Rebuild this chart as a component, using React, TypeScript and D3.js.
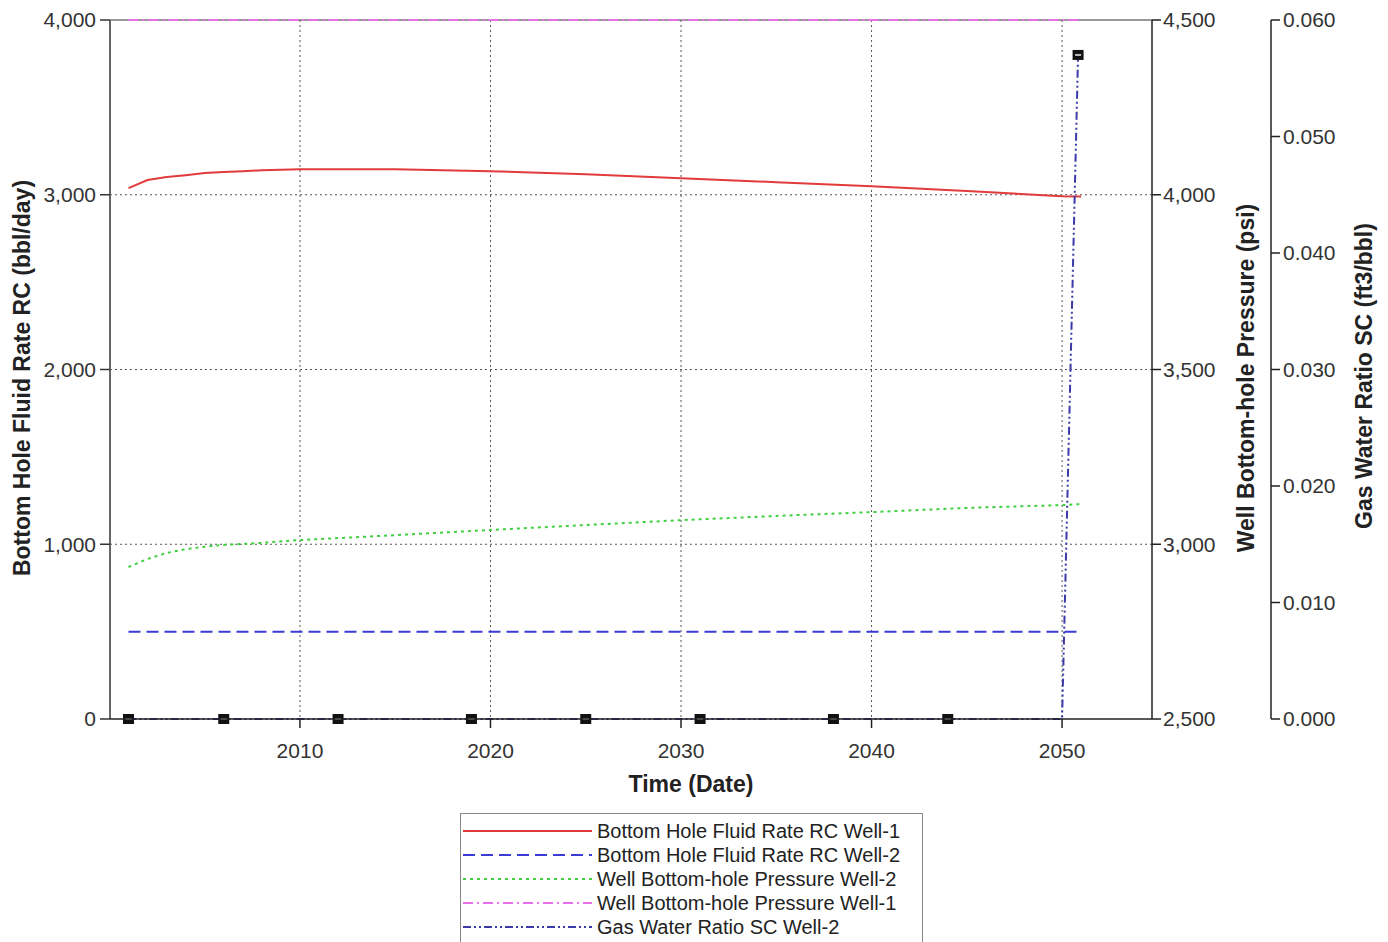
import React from "react";
import * as d3 from "d3";

// ---- data ----
const years = [2001, 2002, 2003, 2004, 2005, 2006, 2007, 2008, 2010, 2015, 2020, 2025, 2030, 2035, 2040, 2045, 2050, 2051];
const rateWell1 = [3038, 3084, 3101, 3112, 3124, 3130, 3135, 3140, 3146, 3146, 3135, 3118, 3095, 3072, 3049, 3021, 2992, 2990];
const rateWell2 = [500, 500, 500, 500, 500, 500, 500, 500, 500, 500, 500, 500, 500, 500, 500, 500, 500, 500];
const pressWell2 = [2935, 2958, 2975, 2986, 2993, 2998, 3001, 3004, 3012, 3026, 3041, 3055, 3069, 3081, 3092, 3104, 3112, 3115];
const pressWell1 = [4500, 4500, 4500, 4500, 4500, 4500, 4500, 4500, 4500, 4500, 4500, 4500, 4500, 4500, 4500, 4500, 4500, 4500];
const gwrYears = [2001, 2006, 2012, 2019, 2025, 2031, 2038, 2044, 2050, 2050.84];
const gwrWell2 = [0, 0, 0, 0, 0, 0, 0, 0, 0, 0.057];
const gwrMarkerIdx = [0, 1, 2, 3, 4, 5, 6, 7, 9];

const xTicks = [2010, 2020, 2030, 2040, 2050];
const rateTicks = [0, 1000, 2000, 3000, 4000];
const pressTicks = [2500, 3000, 3500, 4000, 4500];
const gwrTicks = [0, 0.01, 0.02, 0.03, 0.04, 0.05, 0.06];

const legendItems = [
  { label: "Bottom Hole Fluid Rate RC Well-1", color: "#e23b3b", dash: "none" },
  { label: "Bottom Hole Fluid Rate RC Well-2", color: "#3b3bd6", dash: "12,6" },
  { label: "Well Bottom-hole Pressure Well-2", color: "#3fcf3f", dash: "3,4" },
  { label: "Well Bottom-hole Pressure Well-1", color: "#e870e8", dash: "10,4,2,4" },
  { label: "Gas Water Ratio SC Well-2", color: "#3a3aa8", dash: "8,3,2,3,2,3" },
];

export default function App() {
  const L = 110, R = 1152, T = 20, B = 719;
  const gwrAxisX = 1271;
  const x = d3.scaleLinear().domain([2000.03, 2054.72]).range([L, R]);
  const yRate = d3.scaleLinear().domain([0, 4000]).range([B, T]);
  const yPress = d3.scaleLinear().domain([2500, 4500]).range([B, T]);
  const yGwr = d3.scaleLinear().domain([0, 0.06]).range([B, T]);

  const mk = (ys: number[], vals: number[], sy: d3.ScaleLinear<number, number>) =>
    d3.line<number>().x((_, i) => x(ys[i])).y((v) => sy(v))(vals) || "";

  const fmtInt = d3.format(",");
  const fmtG = d3.format(".3f");
  const font = "'Liberation Sans', Arial, sans-serif";
  const tickColor = "#333";
  const tickFs = 21;
  const titleFs = 23;

  return (
    <svg width={1388} height={942} style={{ position: "absolute", left: 0, top: 0, background: "#fff" }} fontFamily={font}>
      {/* grid */}
      {xTicks.map((t) => (
        <line key={"gx" + t} x1={x(t)} x2={x(t)} y1={T} y2={B} stroke="#555" strokeWidth={1} strokeDasharray="2,3" />
      ))}
      {rateTicks.filter((t) => t > 0 && t < 4000).map((t) => (
        <line key={"gy" + t} x1={L} x2={R} y1={yRate(t)} y2={yRate(t)} stroke="#555" strokeWidth={1} strokeDasharray="2,3" />
      ))}

      {/* frame top */}
      <line x1={L} x2={R} y1={T} y2={T} stroke="#777" strokeWidth={1.5} />

      {/* series */}
      <path d={mk(years, pressWell2, yPress)} fill="none" stroke="#3fcf3f" strokeWidth={2} strokeDasharray="3,4" />
      <path d={mk(years, rateWell2, yRate)} fill="none" stroke="#3b3bd6" strokeWidth={2} strokeDasharray="12,6" />
      <path d={mk(years, rateWell1, yRate)} fill="none" stroke="#e23b3b" strokeWidth={2} />
      <path d={mk(years, pressWell1, yPress)} fill="none" stroke="#e870e8" strokeWidth={2} strokeDasharray="10,4,2,4" />
      <path d={mk(gwrYears, gwrWell2, yGwr)} fill="none" stroke="#3a3aa8" strokeWidth={2} strokeDasharray="8,3,2,3,2,3" />
      {gwrMarkerIdx.map((i) => (
        <g key={"m" + i}>
          <rect x={x(gwrYears[i]) - 5.5} y={yGwr(gwrWell2[i]) - 5} width={11} height={10} fill="#111" />
          <rect x={x(gwrYears[i]) - 3} y={yGwr(gwrWell2[i]) - 1} width={6} height={2} fill="#bbb" />
        </g>
      ))}

      {/* left axis */}
      <line x1={L} x2={L} y1={T} y2={B} stroke="#666" strokeWidth={2} />
      {rateTicks.map((t) => (
        <g key={"ly" + t}>
          <line x1={L - 10} x2={L} y1={yRate(t)} y2={yRate(t)} stroke="#333" strokeWidth={1.5} />
          <text x={L - 14} y={yRate(t)} dy="0.35em" textAnchor="end" fontSize={tickFs} fill={tickColor}>{fmtInt(t)}</text>
        </g>
      ))}
      <text transform={`translate(30,378) rotate(-90)`} textAnchor="middle" fontSize={titleFs} fontWeight="bold" fill="#222">
        Bottom Hole Fluid Rate RC (bbl/day)
      </text>

      {/* bottom axis */}
      <line x1={L} x2={R} y1={B} y2={B} stroke="#222" strokeWidth={1.5} />
      {xTicks.map((t) => (
        <g key={"bx" + t}>
          <line x1={x(t)} x2={x(t)} y1={B} y2={B + 9} stroke="#222" strokeWidth={1.5} />
          <text x={x(t)} y={B + 39} textAnchor="middle" fontSize={tickFs} fill={tickColor}>{t}</text>
        </g>
      ))}
      <text x={691} y={792} textAnchor="middle" fontSize={titleFs} fontWeight="bold" fill="#222">Time (Date)</text>

      {/* pressure axis */}
      <line x1={R} x2={R} y1={T} y2={B} stroke="#222" strokeWidth={1.5} />
      {pressTicks.map((t) => (
        <g key={"py" + t}>
          <line x1={R} x2={R + 9} y1={yPress(t)} y2={yPress(t)} stroke="#222" strokeWidth={1.5} />
          <text x={R + 11} y={yPress(t)} dy="0.35em" textAnchor="start" fontSize={tickFs} fill={tickColor}>{fmtInt(t)}</text>
        </g>
      ))}
      <text transform={`translate(1254,378) rotate(-90)`} textAnchor="middle" fontSize={titleFs} fontWeight="bold" fill="#222">
        Well Bottom-hole Pressure (psi)
      </text>

      {/* GWR axis */}
      <line x1={gwrAxisX} x2={gwrAxisX} y1={T} y2={B} stroke="#222" strokeWidth={1.5} />
      {gwrTicks.map((t) => (
        <g key={"gw" + t}>
          <line x1={gwrAxisX} x2={gwrAxisX + 9} y1={yGwr(t)} y2={yGwr(t)} stroke="#222" strokeWidth={1.5} />
          <text x={gwrAxisX + 12} y={yGwr(t)} dy="0.35em" textAnchor="start" fontSize={tickFs} fill={tickColor}>{fmtG(t)}</text>
        </g>
      ))}
      <text transform={`translate(1372,376) rotate(-90)`} textAnchor="middle" fontSize={titleFs} fontWeight="bold" fill="#222">
        Gas Water Ratio SC (ft3/bbl)
      </text>

      {/* legend */}
      <rect x={460.5} y={813.5} width={462} height={140} fill="#fff" stroke="#888" strokeWidth={1} />
      {legendItems.map((it, i) => {
        const cy = 831 + i * 24;
        return (
          <g key={"lg" + i}>
            <line x1={463} x2={592} y1={cy} y2={cy} stroke={it.color} strokeWidth={2} strokeDasharray={it.dash} />
            <text x={597} y={cy} dy="0.35em" fontSize={20} fill="#222">{it.label}</text>
          </g>
        );
      })}
    </svg>
  );
}
